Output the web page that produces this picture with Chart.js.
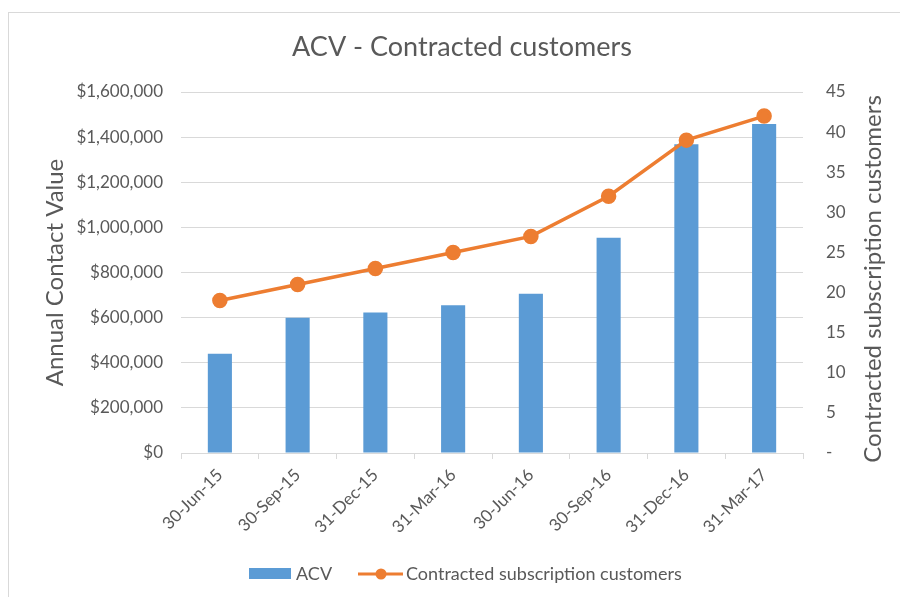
<!DOCTYPE html>
<html>
<head>
<meta charset="utf-8">
<script src="https://cdn.jsdelivr.net/npm/chart.js@4"></script>
<style>
  html, body { margin: 0; padding: 0; background: #fff; }
  #wrap { position: relative; width: 900px; height: 597px; overflow: hidden; }
  #frame { position: absolute; left: 8px; top: 12px; width: 1000px; height: 700px;
           border-left: 1px solid #d9d9d9; border-top: 1px solid #d9d9d9; }
  canvas { position: absolute; left: 0; top: 0; }
</style>
</head>
<body>
<div id="wrap">
  <div id="frame"></div>
  <canvas id="chart" width="900" height="597"></canvas>
</div>
<script>
// chart data
const quarters = ['30-Jun-15', '30-Sep-15', '31-Dec-15', '31-Mar-16', '30-Jun-16', '30-Sep-16', '31-Dec-16', '31-Mar-17'];
const acvValues = [440000, 600000, 623000, 655000, 706000, 954000, 1368000, 1458000];
const customerCounts = [19, 21, 23, 25, 27, 32, 39, 42];
const titleText = 'ACV - Contracted customers';
const leftAxisTitle = 'Annual Contact Value';
const rightAxisTitle = 'Contracted subscription customers';

const FONT = 'Lato, sans-serif';
const GREY = '#595959';
const BLUE = '#5B9BD5';
const ORANGE = '#ED7D31';

// Excel style title, legend and right axis title (reads bottom to top)
const excelExtras = {
  id: 'excelExtras',
  afterDraw(chart) {
    const ctx = chart.ctx;
    const bars = chart.data.datasets.find(d => d.type === 'bar');
    const line = chart.data.datasets.find(d => d.type === 'line');
    ctx.save();
    ctx.fillStyle = GREY;
    ctx.textBaseline = 'middle';
    ctx.textAlign = 'center';
    ctx.font = '27px ' + FONT;
    ctx.fillText(titleText, 462, 47);

    const y = 574;
    ctx.textAlign = 'left';
    ctx.font = '18px ' + FONT;
    ctx.fillStyle = BLUE;
    ctx.fillRect(249, y - 6, 42, 11);
    ctx.fillStyle = GREY;
    ctx.fillText(bars.label, 296, y);
    ctx.strokeStyle = ORANGE;
    ctx.lineWidth = 3;
    ctx.beginPath();
    ctx.moveTo(358, y);
    ctx.lineTo(403, y);
    ctx.stroke();
    ctx.fillStyle = ORANGE;
    ctx.beginPath();
    ctx.arc(381, y, 5.5, 0, Math.PI * 2);
    ctx.fill();
    ctx.fillStyle = GREY;
    ctx.fillText(line.label, 406, y);

    ctx.translate(873, 279);
    ctx.rotate(-Math.PI / 2);
    ctx.font = '24px ' + FONT;
    ctx.textAlign = 'center';
    ctx.fillText(rightAxisTitle, 0, 0);
    ctx.restore();
  }
};

new Chart(document.getElementById('chart'), {
  data: {
    labels: quarters,
    datasets: [
      {
        type: 'line',
        label: 'Contracted subscription customers',
        data: customerCounts,
        yAxisID: 'y1',
        borderColor: ORANGE,
        backgroundColor: ORANGE,
        borderWidth: 3.5,
        pointRadius: 6,
        pointBackgroundColor: ORANGE,
        pointBorderColor: ORANGE,
        tension: 0,
        order: 0
      },
      {
        type: 'bar',
        label: 'ACV',
        data: acvValues,
        yAxisID: 'y',
        backgroundColor: BLUE,
        categoryPercentage: 1,
        barPercentage: 0.31,
        order: 1
      }
    ]
  },
  plugins: [excelExtras],
  options: {
    responsive: false,
    animation: false,
    layout: { padding: { top: 92, left: 0, right: 0, bottom: 0 } },
    plugins: {
      legend: { display: false },
      tooltip: { enabled: false },
      title: { display: false }
    },
    scales: {
      x: {
        offset: true,
        afterFit: s => { s.height = 144; },
        grid: { offset: true, drawOnChartArea: false, drawTicks: true, tickLength: 6, color: '#d9d9d9' },
        border: { display: true, color: '#d9d9d9' },
        ticks: { color: GREY, font: { family: FONT, size: 17 }, maxRotation: 45, minRotation: 45, padding: 6 }
      },
      y: {
        position: 'left',
        min: 0,
        max: 1600000,
        afterFit: s => { s.width = 181; },
        grid: { color: '#d9d9d9', drawTicks: false },
        border: { display: false },
        ticks: {
          stepSize: 200000,
          color: GREY,
          padding: 18,
          font: { family: FONT, size: 17 },
          callback: v => '$' + v.toLocaleString('en-US')
        },
        title: { display: true, text: leftAxisTitle, color: GREY, font: { family: FONT, size: 24 }, padding: { top: 41, bottom: 0 } }
      },
      y1: {
        position: 'right',
        min: 0,
        max: 45,
        afterFit: s => { s.width = 97; },
        grid: { drawOnChartArea: false, drawTicks: false },
        border: { display: false },
        ticks: {
          stepSize: 5,
          color: GREY,
          padding: 23,
          font: { family: FONT, size: 17 },
          callback: v => v === 0 ? '-' : v
        }
      }
    }
  }
});
</script>
</body>
</html>
